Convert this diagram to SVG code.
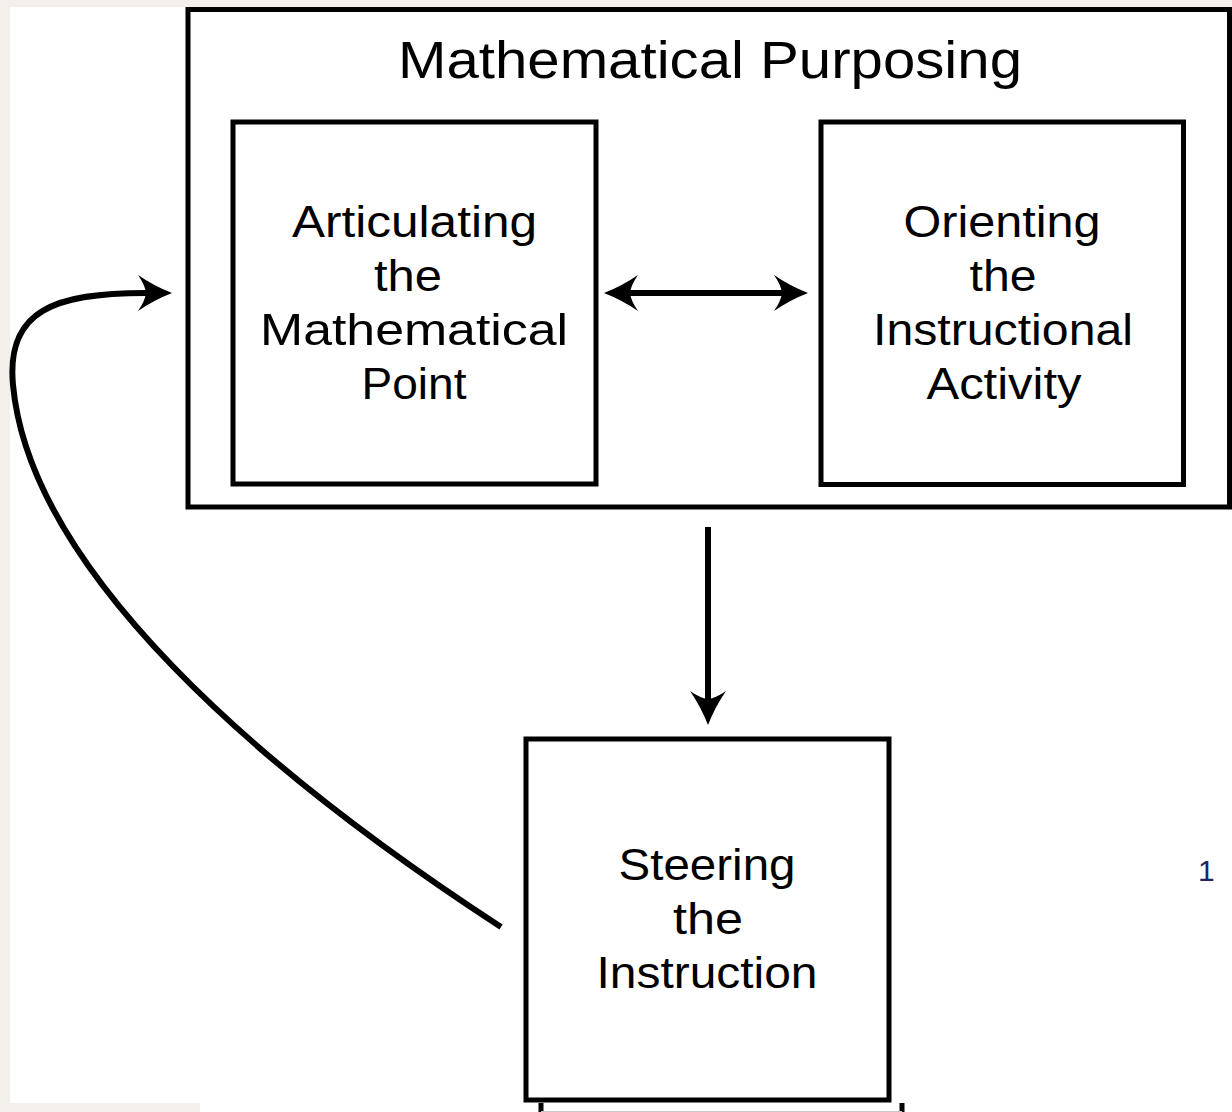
<svg xmlns="http://www.w3.org/2000/svg" width="1232" height="1112" viewBox="0 0 1232 1112">
  <style>
    .box { fill: #ffffff; stroke: #000000; stroke-width: 5; }
    .lbl { font-family: "Liberation Sans", Arial, sans-serif; font-size: 45px; fill: #000000; text-anchor: middle; }
    .title { font-size: 51px; }
    .conn { fill: none; stroke: #000000; stroke-width: 6; }
    .note { font-family: "Liberation Sans", Arial, sans-serif; font-size: 30px; fill: #23235e; }
  </style>
  <defs>
    <marker id="head" markerUnits="userSpaceOnUse" viewBox="-36 -20 40 40" markerWidth="40" markerHeight="40" refX="-26" refY="0" orient="auto-start-reverse" overflow="visible">
      <path d="M0,0 Q-18,-7 -34,-18 Q-27,-8 -26,0 Q-27,8 -34,18 Q-18,7 0,0 Z" fill="#000000"/>
    </marker>
  </defs>

  <rect x="0" y="0" width="1232" height="1112" fill="#f3f0ec"/>
  <rect x="10" y="7" width="1222" height="1096" fill="#ffffff"/>
  <rect x="200" y="1100" width="1032" height="12" fill="#ffffff"/>

  <g id="mathematical-purposing">
    <rect class="box" x="188" y="9.5" width="1041.5" height="497.5"/>
    <text class="lbl title" x="710" y="78" textLength="624" lengthAdjust="spacingAndGlyphs">Mathematical Purposing</text>
  </g>

  <g id="articulating">
    <rect class="box" x="233" y="122" width="363" height="362"/>
    <text class="lbl" x="414.5" y="237" textLength="245" lengthAdjust="spacingAndGlyphs">Articulating</text>
    <text class="lbl" x="408" y="291" textLength="68" lengthAdjust="spacingAndGlyphs">the</text>
    <text class="lbl" x="414" y="345" textLength="308" lengthAdjust="spacingAndGlyphs">Mathematical</text>
    <text class="lbl" x="414" y="399" textLength="105" lengthAdjust="spacingAndGlyphs">Point</text>
  </g>

  <g id="orienting">
    <rect class="box" x="821" y="122" width="362.5" height="362.5"/>
    <text class="lbl" x="1002" y="237" textLength="197" lengthAdjust="spacingAndGlyphs">Orienting</text>
    <text class="lbl" x="1003" y="291" textLength="67" lengthAdjust="spacingAndGlyphs">the</text>
    <text class="lbl" x="1003" y="345" textLength="260" lengthAdjust="spacingAndGlyphs">Instructional</text>
    <text class="lbl" x="1004" y="399" textLength="155" lengthAdjust="spacingAndGlyphs">Activity</text>
  </g>

  <g id="steering">
    <rect class="box" x="526" y="739" width="363" height="361"/>
    <text class="lbl" x="707" y="880" textLength="177" lengthAdjust="spacingAndGlyphs">Steering</text>
    <text class="lbl" x="708" y="934" textLength="70" lengthAdjust="spacingAndGlyphs">the</text>
    <text class="lbl" x="707" y="988" textLength="221" lengthAdjust="spacingAndGlyphs">Instruction</text>
  </g>

  <g id="partial-box">
    <line x1="541" y1="1103" x2="541" y2="1112" stroke="#000000" stroke-width="5"/>
    <line x1="902" y1="1103" x2="902" y2="1112" stroke="#000000" stroke-width="5"/>
    <line x1="541" y1="1111.5" x2="902" y2="1111.5" stroke="#c8c8c8" stroke-width="1"/>
  </g>

  <g id="footnote">
    <text class="note" x="1198" y="881">1</text>
  </g>

  <g id="connectors">
    <line class="conn" x1="630" y1="293" x2="782" y2="293" marker-start="url(#head)" marker-end="url(#head)"/>
    <line class="conn" x1="708" y1="527" x2="708" y2="699" marker-end="url(#head)"/>
    <path class="conn" d="M501,927 C260,770 30,570 13,385 C6,310 55,293 146,293" marker-end="url(#head)"/>
  </g>
</svg>
